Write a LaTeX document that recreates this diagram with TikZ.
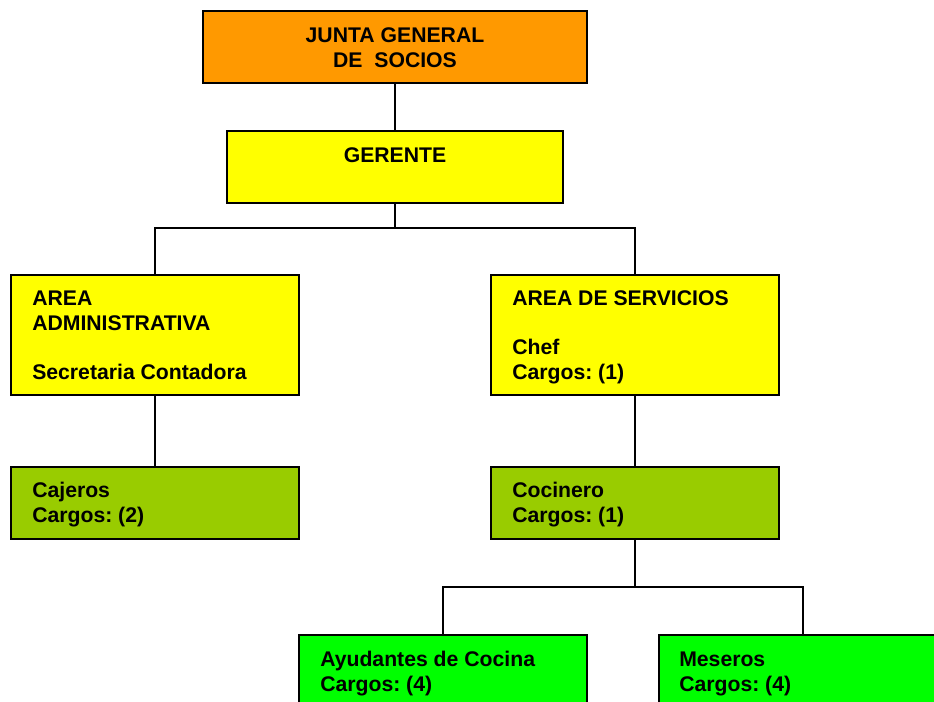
\documentclass[tikz,border=0pt]{standalone}
\usepackage{fontspec}
\setmainfont{Liberation Sans}
\frenchspacing
\definecolor{orangeJ}{HTML}{FF9900}
\definecolor{yellowB}{HTML}{FFFF00}
\definecolor{oliveB}{HTML}{99CC00}
\definecolor{greenB}{HTML}{00FF00}
\begin{document}
\frenchspacing
\begin{tikzpicture}[x=0.75pt,y=-0.75pt,
  box/.style={draw=black,line width=0.9pt,inner sep=0pt,outer sep=0pt,minimum width=216pt},
  tall/.style={minimum height=90pt},
  short/.style={minimum height=54pt},
  conn/.style={draw=black,line width=0.8pt},
  txt/.style={font=\fontsize{15.9pt}{18.4pt}\selectfont\bfseries,inner sep=0pt,anchor=base west},
  ctxt/.style={txt,anchor=base}]
\useasboundingbox (0,0) rectangle (934,701);
\clip (0,0) rectangle (934,701);
% boxes
\node[box,short,fill=orangeJ,minimum width=288pt] (junta) at (395,47) {};
\node[box,short,fill=yellowB,minimum width=252pt] (ger) at (395,167) {};
\node[box,tall,fill=yellowB] (adm) at (155,335) {};
\node[box,tall,fill=yellowB] (serv) at (635,335) {};
\node[box,short,fill=oliveB] (caj) at (155,503) {};
\node[box,short,fill=oliveB] (coc) at (635,503) {};
\node[box,short,fill=greenB] (ayu) at (443,671) {};
\node[box,short,fill=greenB] (mes) at (803,671) {};
% junctions
\coordinate (j1) at (395,228);
\coordinate (j2) at (635,587);
% connectors
\draw[conn] (junta.south) -- (ger.north);
\draw[conn] (ger.south) -- (j1);
\draw[conn] (adm.north) |- (j1) -| (serv.north);
\draw[conn] (adm.south) -- (caj.north);
\draw[conn] (serv.south) -- (coc.north);
\draw[conn] (coc.south) -- (j2);
\draw[conn] (ayu.north) |- (j2) -| (mes.north);
% texts
\node[ctxt] (t1) at (395,42) {JUNTA GENERAL};
\node[ctxt] (t2) at (395,67) {DE\ \ SOCIOS};
\node[ctxt] (t3) at (395,162) {GERENTE};
\node[txt] (t4) at (32,305) {AREA};
\node[txt] (t5) at (32,330) {ADMINISTRATIVA};
\node[txt] (t6) at (32,379) {Secretaria Contadora};
\node[txt] (t7) at (512,305) {AREA DE SERVICIOS};
\node[txt] (t8) at (512,354) {Chef};
\node[txt] (t9) at (512,379) {Cargos: (1)};
\node[txt] (t10) at (32,497) {Cajeros};
\node[txt] (t11) at (32,522) {Cargos: (2)};
\node[txt] (t12) at (512,497) {Cocinero};
\node[txt] (t13) at (512,522) {Cargos: (1)};
\node[txt] (t14) at (320,666) {Ayudantes de Cocina};
\node[txt] (t15) at (320,691) {Cargos: (4)};
\node[txt] (t16) at (679,666) {Meseros};
\node[txt] (t17) at (679,691) {Cargos: (4)};
\end{tikzpicture}
\end{document}
